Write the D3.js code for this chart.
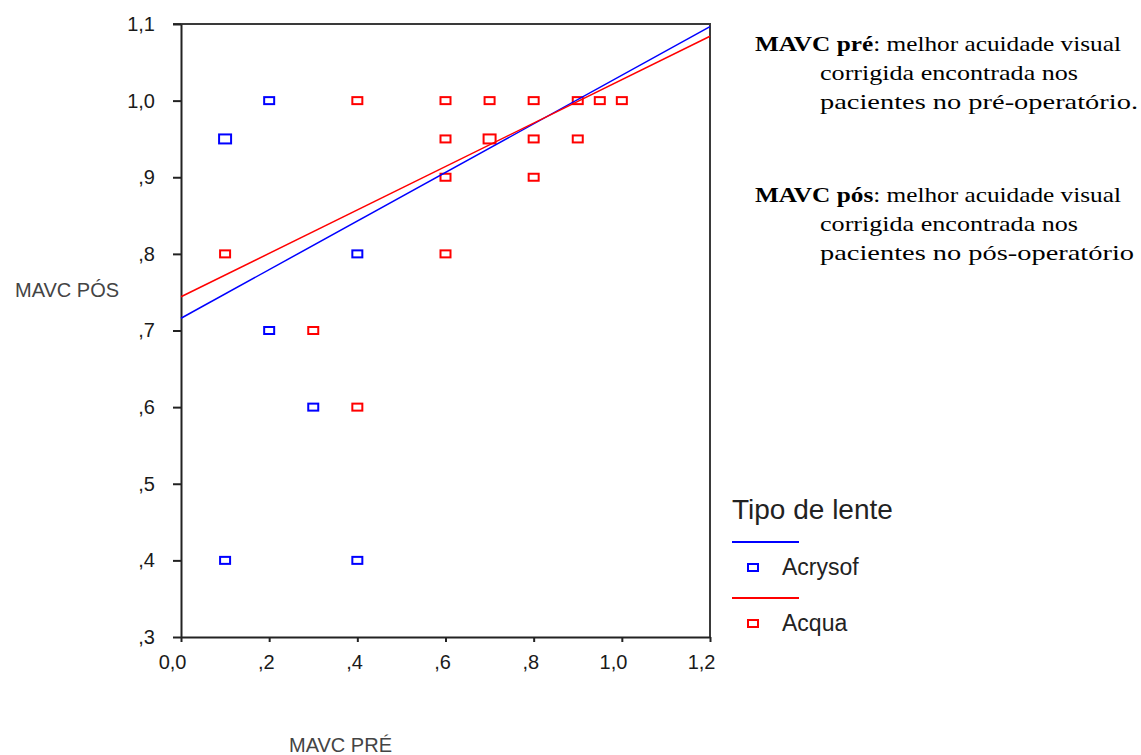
<!DOCTYPE html>
<html>
<head>
<meta charset="utf-8">
<script src="https://cdn.jsdelivr.net/npm/d3@7"></script>
<style>
	body { margin: 0; background: #fff; }
	svg { display: block; }
</style>
</head>
<body>
<div id="chart-area"></div>
<script>
// DATA

let xTickValues = [0, 0.2, 0.4, 0.6, 0.8, 1.0, 1.2]
let xTickLabels = ['0,0', ',2', ',4', ',6', ',8', '1,0', '1,2']
let yTickValues = [0.3, 0.4, 0.5, 0.6, 0.7, 0.8, 0.9, 1.0, 1.1]
let yTickLabels = [',3', ',4', ',5', ',6', ',7', ',8', ',9', '1,0', '1,1']

let seriesNames = ['Acrysof', 'Acqua']
let seriesColors = ['#0000ff', '#ff0000']

let acrysofPre = [0.1, 0.2, 0.4, 0.2, 0.3, 0.1, 0.4]
let acrysofPos = [0.95, 1.0, 0.8, 0.7, 0.6, 0.4, 0.4]
let acrysofCount = [2, 1, 1, 1, 1, 1, 1]

let acquaPre = [0.1, 0.4, 0.3, 0.4, 0.6, 0.7, 0.8, 0.9, 0.95, 1.0, 0.6, 0.7, 0.8, 0.9, 0.6, 0.8, 0.6]
let acquaPos = [0.8, 1.0, 0.7, 0.6, 1.0, 1.0, 1.0, 1.0, 1.0, 1.0, 0.95, 0.95, 0.95, 0.95, 0.9, 0.9, 0.8]
let acquaCount = [1, 1, 1, 1, 1, 1, 1, 1, 1, 1, 1, 2, 1, 1, 1, 1, 1]

// fit lines: [MAVC pré, MAVC pós] at both ends
let acrysofFit = [[0, 0.716], [1.2, 1.0965]]
let acquaFit = [[0, 0.744], [1.2, 1.084]]

let notes = [
	{ bold: 'MAVC pré', rest: ': melhor acuidade visual', lines: ['corrigida encontrada nos', 'pacientes no pré-operatório.'] },
	{ bold: 'MAVC pós', rest: ': melhor acuidade visual', lines: ['corrigida encontrada nos', 'pacientes no pós-operatório'] }
]
// widths the original (Garamond-like) lines take up
let noteWidths = [366, 258, 318, 366, 258, 314]

// LAYOUT

let width = 1141
let height = 755
let plot = { left: 181, right: 710, top: 24, bottom: 637 }

let svg = d3.select('#chart-area').append('svg')
	.attr('width', width)
	.attr('height', height)

let x = d3.scaleLinear()
	.domain([0, 1.2])
	.range([plot.left, plot.right])

let y = d3.scaleLinear()
	.domain([0.3, 1.1])
	.range([plot.bottom, plot.top])

// FRAME (top + right)

svg.append('path')
	.attr('d', 'M' + (plot.left - 8) + ',' + plot.top + 'H' + plot.right + 'V' + plot.bottom)
	.attr('fill', 'none')
	.attr('stroke', '#3a3a3a')
	.attr('stroke-width', 2)

// AXES

let yAxisGroup = svg.append('g')
	.attr('transform', 'translate(' + plot.left + ',0)')
	.call(d3.axisLeft(y)
		.tickValues(yTickValues)
		.tickFormat((d, i) => yTickLabels[i])
		.tickSize(8)
		.tickSizeOuter(0)
		.tickPadding(18))

let xAxisGroup = svg.append('g')
	.attr('transform', 'translate(0,' + plot.bottom + ')')
	.call(d3.axisBottom(x)
		.tickValues(xTickValues)
		.tickFormat((d, i) => xTickLabels[i])
		.tickSize(5)
		.tickSizeOuter(0)
		.tickPadding(13))

svg.selectAll('.domain, .tick line')
	.attr('stroke', '#222')
	.attr('stroke-width', 2)

svg.selectAll('.tick text')
	.attr('fill', '#1a1a1a')
	.style('font-family', '"Liberation Sans", Arial, sans-serif')
	.style('font-size', '20px')

xAxisGroup.selectAll('.tick text')
	.attr('text-anchor', 'end')
	.attr('dx', 5)

// axis titles
svg.append('text')
	.attr('x', 15)
	.attr('y', 297)
	.attr('fill', '#444')
	.style('font-family', '"Liberation Sans", Arial, sans-serif')
	.style('font-size', '20px')
	.text('MAVC PÓS')

svg.append('text')
	.attr('x', 289)
	.attr('y', 752)
	.attr('fill', '#444')
	.style('font-family', '"Liberation Sans", Arial, sans-serif')
	.style('font-size', '20px')
	.text('MAVC PRÉ')

// POINTS

let points = []
acrysofPre.forEach((v, i) => points.push({ pre: v, pos: acrysofPos[i], n: acrysofCount[i], s: 0 }))
acquaPre.forEach((v, i) => points.push({ pre: v, pos: acquaPos[i], n: acquaCount[i], s: 1 }))

let markerW = (n) => n > 1 ? 12 : 10
let markerH = (n) => n > 1 ? 9 : 7

svg.append('g').selectAll('rect')
	.data(points)
	.enter()
	.append('rect')
		.attr('x', (d) => x(d.pre) - markerW(d.n) / 2)
		.attr('y', (d) => y(d.pos) - markerH(d.n) / 2)
		.attr('width', (d) => markerW(d.n))
		.attr('height', (d) => markerH(d.n))
		.attr('fill', '#fff')
		.attr('stroke', (d) => seriesColors[d.s])
		.attr('stroke-width', 2)

// FIT LINES

let line = d3.line()
	.x((d) => x(d[0]))
	.y((d) => y(d[1]))

;[acrysofFit, acquaFit].forEach((fit, i) => {
	svg.append('path')
		.attr('d', line(fit))
		.attr('fill', 'none')
		.attr('stroke', seriesColors[i])
		.attr('stroke-width', 1.5)
})

// LEGEND

let legend = svg.append('g')

legend.append('text')
	.attr('x', 732)
	.attr('y', 519)
	.attr('fill', '#222')
	.style('font-family', '"Liberation Sans", Arial, sans-serif')
	.style('font-size', '28px')
	.text('Tipo de lente')

seriesNames.forEach((name, i) => {
	let top = 542 + i * 56
	legend.append('line')
		.attr('x1', 732).attr('x2', 799)
		.attr('y1', top).attr('y2', top)
		.attr('stroke', seriesColors[i])
		.attr('stroke-width', 2)
	legend.append('rect')
		.attr('x', 748).attr('y', top + 22)
		.attr('width', 10).attr('height', 7)
		.attr('fill', '#fff')
		.attr('stroke', seriesColors[i])
		.attr('stroke-width', 2)
	legend.append('text')
		.attr('x', 782)
		.attr('y', top + 33)
		.attr('fill', '#222')
		.style('font-family', '"Liberation Sans", Arial, sans-serif')
		.style('font-size', '23px')
		.text(name)
})

// NOTES (serif text on the right)

let noteGroup = svg.append('g')
	.style('font-family', '"Liberation Serif", "Times New Roman", serif')
	.style('font-size', '22px')
	.attr('fill', '#000')

let noteTexts = []
notes.forEach((note, b) => {
	let base = 51 + b * 151
	let first = noteGroup.append('text')
		.attr('x', 755)
		.attr('y', base)
	first.append('tspan').attr('font-weight', 'bold').text(note.bold)
	first.append('tspan').text(note.rest)
	noteTexts.push(first)
	note.lines.forEach((t, j) => {
		noteTexts.push(noteGroup.append('text')
			.attr('x', 820)
			.attr('y', base + 29 * (j + 1))
			.text(t))
	})
})

// stretch each serif line to the width it has in the original typeface
noteTexts.forEach((t, i) => {
	t.attr('textLength', noteWidths[i]).attr('lengthAdjust', 'spacingAndGlyphs')
})
</script>
</body>
</html>
